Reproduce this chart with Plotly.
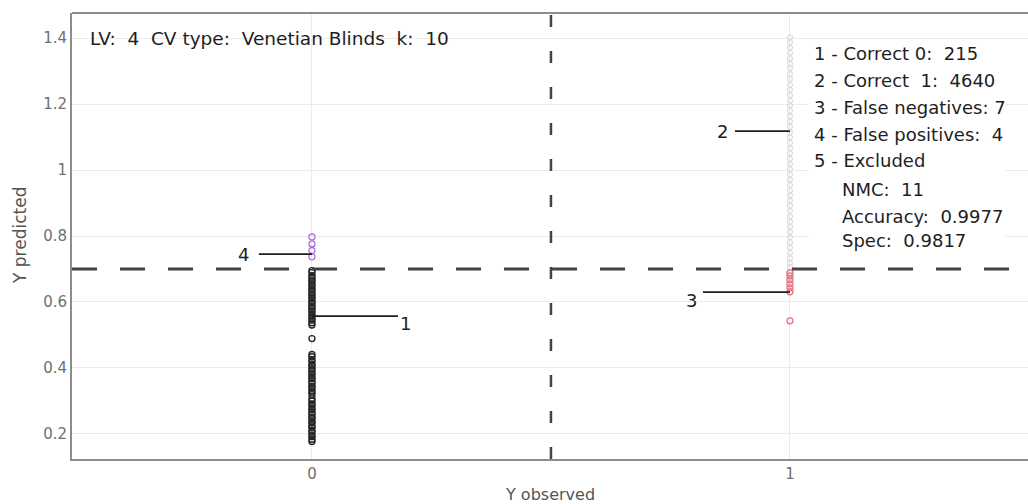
import plotly.graph_objects as go

# ---- data ----
correct0_y = [0.695, 0.689, 0.680, 0.675, 0.667, 0.662, 0.654, 0.649, 0.640, 0.636,
              0.628, 0.623, 0.615, 0.610, 0.601, 0.597, 0.588, 0.584, 0.576, 0.571,
              0.562, 0.558, 0.550, 0.545, 0.537, 0.530, 0.489,
              0.441, 0.434, 0.425, 0.420, 0.411, 0.406, 0.398, 0.393, 0.385, 0.380,
              0.371, 0.367, 0.358, 0.353, 0.344, 0.340, 0.331, 0.326, 0.319,
              0.307, 0.300, 0.291, 0.287, 0.278, 0.273, 0.265, 0.260, 0.251, 0.247,
              0.238, 0.234, 0.225, 0.220, 0.211, 0.206, 0.197, 0.192, 0.184, 0.177]
correct1_y = [1.402, 1.388, 1.371, 1.356, 1.339, 1.322, 1.309, 1.291, 1.276, 1.258,
              1.243, 1.227, 1.210, 1.196, 1.179, 1.163, 1.147, 1.131, 1.114, 1.099,
              1.082, 1.066, 1.051, 1.034, 1.018, 1.003, 0.987, 0.971, 0.955, 0.938,
              0.923, 0.907, 0.892, 0.876, 0.859, 0.843, 0.828, 0.812, 0.796, 0.781,
              0.765, 0.749, 0.733, 0.718, 0.706]
false_neg_y = [0.688, 0.679, 0.667, 0.655, 0.643, 0.631, 0.543]
false_pos_y = [0.797, 0.776, 0.756, 0.737]

threshold = 0.7
class_split = 0.5

x_ticks = [0, 1]
x_ticktext = ["0", "1"]
y_ticks = [0.2, 0.4, 0.6, 0.8, 1.0, 1.2, 1.4]
y_ticktext = ["0.2", "0.4", "0.6", "0.8", "1", "1.2", "1.4"]

header = "LV:  4  CV type:  Venetian Blinds  k:  10"
stats_lines = ["1 - Correct 0:  215", "2 - Correct  1:  4640", "3 - False negatives: 7",
               "4 - False positives:  4", "5 - Excluded"]
stats_sub = ["NMC:  11", "Accuracy:  0.9977", "Spec:  0.9817"]

# callout labels: (label, line y, line x0, line x1, text x, text y)
callouts = [("4", 0.745, -0.111, 0.0, -0.144, 0.745),
            ("1", 0.557, 0.0, 0.18, 0.196, 0.536),
            ("2", 1.118, 0.885, 1.0, 0.858, 1.118),
            ("3", 0.630, 0.818, 1.0, 0.795, 0.606)]

FONT = "DejaVu Sans"
nb = lambda s: s.replace(" ", "\u00a0")

fig = go.Figure()
fig.add_trace(go.Scatter(x=[1] * len(correct1_y), y=correct1_y, mode="markers",
                         marker=dict(symbol="circle-open", size=5, color="#dcdcdc",
                                     line=dict(width=1.2)), hoverinfo="skip"))
fig.add_trace(go.Scatter(x=[0] * len(correct0_y), y=correct0_y, mode="markers",
                         marker=dict(symbol="circle-open", size=6, color="#262626",
                                     line=dict(width=1.4)), hoverinfo="skip"))
fig.add_trace(go.Scatter(x=[1] * len(false_neg_y), y=false_neg_y, mode="markers",
                         marker=dict(symbol="circle-open", size=6, color="#e0707c",
                                     line=dict(width=1.3)), hoverinfo="skip"))
fig.add_trace(go.Scatter(x=[0] * len(false_pos_y), y=false_pos_y, mode="markers",
                         marker=dict(symbol="circle-open", size=6, color="#b071e4",
                                     line=dict(width=1.3)), hoverinfo="skip"))

shapes = []
shapes.append(dict(type="line", xref="paper", x0=0, x1=1, yref="y", y0=threshold, y1=threshold,
                   line=dict(color="#444444", width=3, dash="25px,23px"), layer="above"))
shapes.append(dict(type="line", xref="x", x0=class_split, x1=class_split, yref="paper", y0=0, y1=1,
                   line=dict(color="#444444", width=2.5, dash="12px,24px"), layer="above"))
shapes.append(dict(type="line", xref="paper", x0=0, x1=1, yref="paper", y0=1, y1=1,
                   line=dict(color="#8c8c8c", width=2)))
shapes.append(dict(type="rect", xref="x", x0=1.038, x1=1.45, yref="y", y0=0.752, y1=1.388,
                   fillcolor="white", line=dict(width=0), layer="between"))
annotations = []
for lab, ly, x0, x1, tx, ty in callouts:
    shapes.append(dict(type="line", xref="x", x0=x0, x1=x1, yref="y", y0=ly, y1=ly,
                       line=dict(color="#1e1e1e", width=1.6), layer="above"))
    annotations.append(dict(text=lab, x=tx, y=ty, xref="x", yref="y", showarrow=False,
                            xanchor="center", yanchor="middle",
                            font=dict(family=FONT, size=18, color="#1e1e1e")))

annotations.append(dict(text=nb(header), xref="paper", x=16 / 956, yref="y", y=1.4,
                        xanchor="left", yanchor="middle", showarrow=False,
                        font=dict(family=FONT, size=18.5, color="#1e1e1e")))
row_px = [53, 80, 107, 134, 161, 189, 216, 240]
rows = stats_lines + stats_sub
for i, (txt, py) in enumerate(zip(rows, row_px)):
    xs = 1.046 if i < len(stats_lines) else 1.105
    annotations.append(dict(text=nb(txt), xref="x", x=xs, yref="paper", y=(459 - py) / 446,
                            xanchor="left", yanchor="middle", showarrow=False,
                            font=dict(family=FONT, size=18, color="#1e1e1e")))
annotations.append(dict(text="Y observed", xref="paper", x=0.5, yref="paper", y=0, yshift=-35,
                        xanchor="center", yanchor="middle", showarrow=False,
                        font=dict(family=FONT, size=16, color="#555555")))
annotations.append(dict(text="Y predicted", xref="paper", x=0, xshift=-52, yref="paper", y=0.5,
                        xanchor="center", yanchor="middle", showarrow=False, textangle=-90,
                        font=dict(family=FONT, size=17, color="#555555")))

fig.update_layout(
    width=1028, height=504,
    margin=dict(l=72, r=0, t=13, b=45),
    paper_bgcolor="white", plot_bgcolor="white",
    showlegend=False,
    shapes=shapes, annotations=annotations,
    xaxis=dict(range=[-0.502, 1.498], tickvals=x_ticks, ticktext=x_ticktext,
               showgrid=True, gridcolor="#ebebeb", gridwidth=1, zeroline=False,
               showline=True, linecolor="#8c8c8c", linewidth=2, ticks="",
               tickfont=dict(family=FONT, size=15, color="#707070")),
    yaxis=dict(range=[0.124, 1.476], tickvals=y_ticks, ticktext=y_ticktext,
               showgrid=True, gridcolor="#ebebeb", gridwidth=1, zeroline=False,
               showline=True, linecolor="#8c8c8c", linewidth=2, ticks="",
               tickfont=dict(family=FONT, size=15, color="#707070")),
)

fig.write_html("out.html")
